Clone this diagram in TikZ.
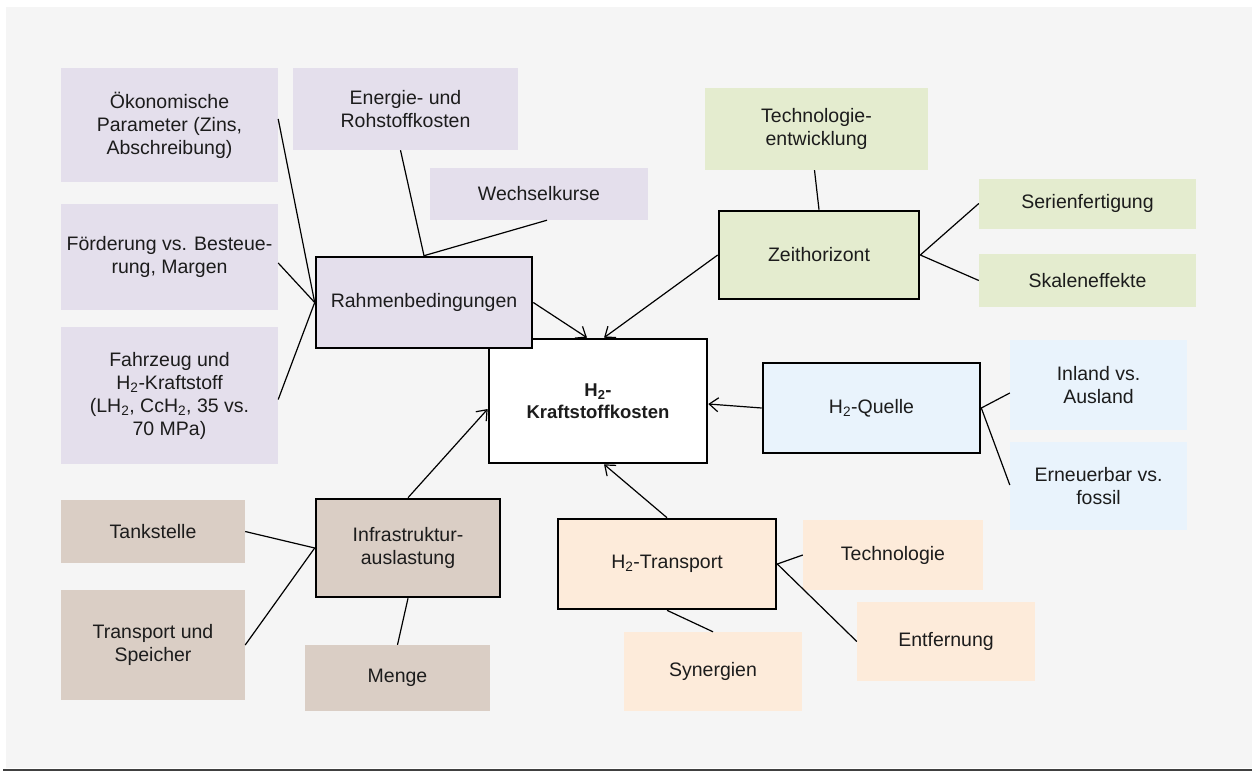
\documentclass[tikz,border=0pt]{standalone}
\usepackage{fontspec}
\setmainfont{Liberation Sans}
\usetikzlibrary{arrows.meta}
\definecolor{bgcol}{HTML}{F5F5F5}
\definecolor{rulecol}{HTML}{404040}
\definecolor{inkcol}{HTML}{1C1C1C}
\definecolor{lila}{HTML}{E4DFEC}
\definecolor{gruen}{HTML}{E4ECCF}
\definecolor{blau}{HTML}{E9F3FC}
\definecolor{pfirsich}{HTML}{FDEBDA}
\definecolor{sand}{HTML}{DACEC5}
\newcommand{\Hzwei}{H\textsubscript{2}}
\tikzset{
  leaf/.style={fill=#1, draw=none, align=center, inner sep=0pt, text=inkcol},
  hub/.style={fill=#1, draw=black, line width=2.6pt, align=center, inner sep=0pt, text=inkcol},
  link/.style={draw=black, line width=1.2pt},
  flow/.style={link, -{Straight Barb[length=9pt,width=14pt,line width=1.2pt]}},
}
\begin{document}
\begin{tikzpicture}[x=1pt, y=-1pt, font=\fontsize{19.5}{23}\selectfont]
\useasboundingbox (0,0) rectangle (1252,771);
% page background and bottom rule
\fill[bgcol] (6,7) rectangle (1252,768);
\fill[rulecol] (3,768.5) rectangle (1252,771);

% centre
\node[hub=white, minimum width=218pt, minimum height=124pt, font=\bfseries\fontsize{18.5}{22}\selectfont]
  (kosten) at (598,401) {\Hzwei-\\Kraftstoffkosten};

% Rahmenbedingungen
\node[hub=lila, minimum width=216pt, minimum height=91pt] (rahmen) at (424,302.5) {Rahmenbedingungen};
\node[leaf=lila, minimum width=217pt, minimum height=114pt] (oeko) at (169.5,125) {Ökonomische\\Parameter (Zins,\\Abschreibung)};
\node[leaf=lila, minimum width=225pt, minimum height=82pt] (energie) at (405.5,109) {Energie- und\\Rohstoffkosten};
\node[leaf=lila, minimum width=218pt, minimum height=52pt] (wechsel) at (539,194) {Wechselkurse};
\node[leaf=lila, minimum width=217pt, minimum height=106pt] (foerder) at (169.5,257) {Förderung vs. Besteue-\\rung, Margen};
\node[leaf=lila, minimum width=217pt, minimum height=137pt] (fahrzeug) at (169.5,395.5)
  {Fahrzeug und\\\Hzwei-Kraftstoff\\(L\Hzwei, Cc\Hzwei, 35 vs.\\70 MPa)};

% Zeithorizont
\node[hub=gruen, minimum width=200pt, minimum height=88pt] (zeit) at (819,255) {Zeithorizont};
\node[leaf=gruen, minimum width=223pt, minimum height=82pt] (techentw) at (816.5,129) {Technologie-\\entwicklung};
\node[leaf=gruen, minimum width=217pt, minimum height=50pt] (serie) at (1087.5,203.5) {Serienfertigung};
\node[leaf=gruen, minimum width=217pt, minimum height=53pt] (skala) at (1087.5,280.5) {Skaleneffekte};

% H2-Quelle
\node[hub=blau, minimum width=217pt, minimum height=90pt] (quelle) at (871.5,408) {\Hzwei-Quelle};
\node[leaf=blau, minimum width=177pt, minimum height=90pt] (inland) at (1098.5,385) {Inland vs.\\Ausland};
\node[leaf=blau, minimum width=177pt, minimum height=88pt] (erneuer) at (1098.5,486) {Erneuerbar vs.\\fossil};

% H2-Transport
\node[hub=pfirsich, minimum width=218pt, minimum height=90pt] (transport) at (667,564) {\Hzwei-Transport};
\node[leaf=pfirsich, minimum width=180pt, minimum height=70pt] (technik) at (893,555) {Technologie};
\node[leaf=pfirsich, minimum width=178pt, minimum height=79pt] (entfern) at (946,641.5) {Entfernung};
\node[leaf=pfirsich, minimum width=178pt, minimum height=79pt] (synerg) at (713,671.5) {Synergien};

% Infrastrukturauslastung
\node[hub=sand, minimum width=184pt, minimum height=98pt] (infra) at (408,548) {Infrastruktur-\\auslastung};
\node[leaf=sand, minimum width=184pt, minimum height=63pt] (tank) at (153,531.5) {Tankstelle};
\node[leaf=sand, minimum width=184pt, minimum height=110pt] (speicher) at (153,645) {Transport und\\Speicher};
\node[leaf=sand, minimum width=185pt, minimum height=66pt] (menge) at (397.5,678) {Menge};

% plain links from each hub to its factors
\draw[link] (rahmen.west) -- ([yshift=6pt]oeko.east);
\draw[link] (rahmen.west) -- ([yshift=-6pt]foerder.east);
\draw[link] (rahmen.west) -- ([yshift=-4pt]fahrzeug.east);
\draw[link] (rahmen.north) -- ([xshift=-5pt]energie.south);
\draw[link] (rahmen.north) -- ([xshift=8pt]wechsel.south);

\draw[link] (zeit.north) -- ([xshift=-2pt]techentw.south);
\draw[link] (zeit.east) -- (serie.west);
\draw[link] (zeit.east) -- (skala.west);

\draw[link] (quelle.east) -- ([yshift=-8pt]inland.west);
\draw[link] (quelle.east) -- ([yshift=1pt]erneuer.west);

\draw[link] (transport.east) -- (technik.west);
\draw[link] (transport.east) -- (entfern.west);
\draw[link] (transport.south) -- (synerg.north);

\draw[link] (infra.west) -- (tank.east);
\draw[link] (infra.west) -- (speicher.east);
\draw[link] (infra.south) -- (menge.north);

% arrows into the centre
\draw[flow] (rahmen.east) -- ([xshift=-11pt]kosten.north);
\draw[flow] (zeit.west) -- ([xshift=6pt]kosten.north);
\draw[flow] (quelle.west) -- ([yshift=-3pt]kosten.east);
\draw[flow] (transport.north) -- ([xshift=6pt]kosten.south);
\draw[flow] (infra.north) -- ([yshift=-8pt]kosten.west);
\end{tikzpicture}
\end{document}
